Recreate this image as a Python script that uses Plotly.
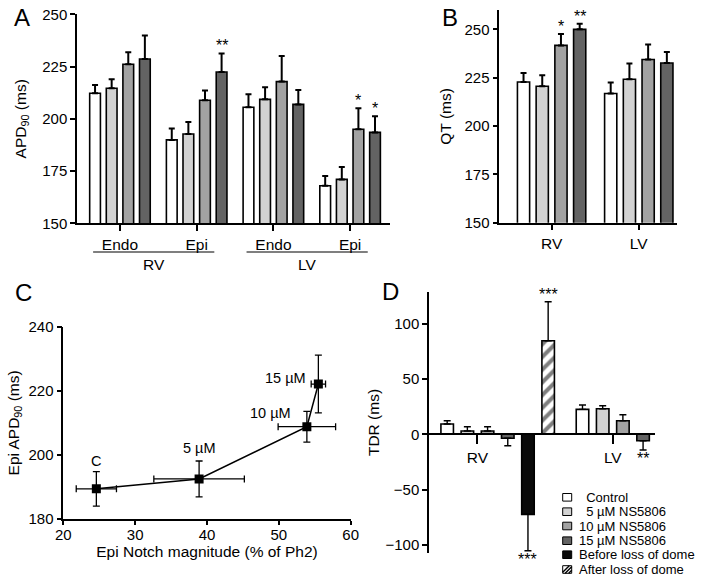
import plotly.graph_objects as go

W, H = 704, 582
FONT = "Arial, Liberation Sans, sans-serif"

# ---------------- data ----------------
series_names = ["Control", "5 µM NS5806", "10 µM NS5806", "15 µM NS5806"]
series_colors = ["#ffffff", "#d2d2d2", "#a2a2a2", "#636363"]

# Panel A: APD90 (ms)
a_groups = ["Endo", "Epi", "Endo", "Epi"]
a_regions = ["RV", "LV"]
a_control = [212.2, 189.9, 205.5, 168.0]
a_5uM = [214.6, 192.7, 209.3, 171.0]
a_10uM = [226.1, 208.9, 217.8, 195.0]
a_15uM = [228.6, 222.4, 206.9, 193.5]
a_control_sem = [4.0, 5.4, 6.2, 4.6]
a_5uM_sem = [4.3, 5.8, 5.8, 5.9]
a_10uM_sem = [5.7, 4.7, 12.2, 10.0]
a_15uM_sem = [11.2, 8.9, 6.9, 7.7]
a_stars = [(1, 3, "**"), (3, 2, "*"), (3, 3, "*")]  # (group, series, text)

# Panel B: QT (ms)
b_groups = ["RV", "LV"]
b_control = [222.8, 216.8]
b_5uM = [220.6, 224.2]
b_10uM = [241.7, 234.4]
b_15uM = [250.0, 232.6]
b_control_sem = [4.6, 5.7]
b_5uM_sem = [5.7, 8.1]
b_10uM_sem = [5.9, 7.7]
b_15uM_sem = [2.9, 5.7]
b_stars = [(0, 2, "*"), (0, 3, "**")]

# Panel C: Epi APD90 vs Epi notch magnitude
c_labels = ["C", "5 µM", "10 µM", "15 µM"]
c_notch = [24.6, 38.9, 53.9, 55.5]
c_notch_sem = [2.8, 6.3, 4.0, 1.0]
c_apd = [189.4, 192.5, 208.8, 222.1]
c_apd_sem = [5.4, 5.6, 4.8, 9.0]

# Panel D: TDR (ms)
d_groups = ["RV", "LV"]
d_names = ["Control", "5 µM NS5806", "10 µM NS5806", "15 µM NS5806",
           "Before loss of dome", "After loss of dome"]
d_legend_text = ["\u00a0\u00a0Control", "\u00a0\u00a05 µM NS5806", "10 µM NS5806",
                 "15 µM NS5806", "Before loss of dome", "After loss of dome"]
d_colors = ["#ffffff", "#d2d2d2", "#a2a2a2", "#636363", "#0a0a0a", "#ffffff"]
d_rv = [9.3, 3.0, 3.0, -3.6, -72.4, 84.7]
d_rv_sem = [3.0, 3.9, 3.9, 6.7, 32.9, 35.3]
d_lv = [22.6, 23.2, 12.3, -5.8]
d_lv_sem = [3.9, 2.7, 5.4, 8.4]
d_stars = [(0, 4, "***"), (0, 5, "***"), (1, 3, "**")]

# ---------------- helpers ----------------
def px_x(p):
    return p / W

def px_y(p):
    return 1 - p / H

fig = go.Figure()
ann = []
shapes = []

def bar_trace(x, y, sem, color, xa, ya, width, pattern=None, ethick=2.0, ewidth=3):
    plus = [s if v >= 0 else 0 for v, s in zip(y, sem)]
    minus = [s if v < 0 else 0 for v, s in zip(y, sem)]
    marker = dict(color=color, line=dict(color="black", width=1.6))
    if pattern:
        marker["pattern"] = pattern
    return go.Bar(x=x, y=y, width=width, marker=marker, xaxis=xa, yaxis=ya,
                  error_y=dict(type="data", symmetric=False, array=plus, arrayminus=minus,
                               color="black", thickness=ethick, width=ewidth),
                  showlegend=False, hoverinfo="skip")

# Panel A
A_SLOT, A_W = 0.2165, 0.14
a_vals = [a_control, a_5uM, a_10uM, a_15uM]
a_sems = [a_control_sem, a_5uM_sem, a_10uM_sem, a_15uM_sem]
for i in range(4):
    xs = [g + (i - 1.5) * A_SLOT for g in range(len(a_groups))]
    fig.add_trace(bar_trace(xs, a_vals[i], a_sems[i], series_colors[i], "x", "y", A_W))
for g, s, t in a_stars:
    ann.append(dict(x=g + (s - 1.5) * A_SLOT, y=a_vals[s][g] + a_sems[s][g], xref="x", yref="y",
                    text=t, showarrow=False, xanchor="center", yanchor="bottom", yshift=-3,
                    font=dict(size=16, color="black")))
# region underlines
for r, region in enumerate(a_regions):
    g0, g1 = 2 * r, 2 * r + 1
    x0, x1 = g0 - 0.35, g1 + 0.23
    shapes.append(dict(type="line", xref="x", yref="paper", x0=x0, x1=x1,
                       y0=px_y(252), y1=px_y(252), line=dict(color="black", width=1.2)))
    ann.append(dict(x=(x0 + x1) / 2, y=px_y(265), xref="x", yref="paper", text=region,
                    showarrow=False, xanchor="center", yanchor="middle",
                    font=dict(size=15.5, color="black")))

# Panel B
B_SLOT, B_W = 0.2147, 0.14
b_vals = [b_control, b_5uM, b_10uM, b_15uM]
b_sems = [b_control_sem, b_5uM_sem, b_10uM_sem, b_15uM_sem]
for i in range(4):
    xs = [g + (i - 1.5) * B_SLOT for g in range(len(b_groups))]
    fig.add_trace(bar_trace(xs, b_vals[i], b_sems[i], series_colors[i], "x2", "y2", B_W))
for g, s, t in b_stars:
    ann.append(dict(x=g + (s - 1.5) * B_SLOT, y=b_vals[s][g] + b_sems[s][g], xref="x2", yref="y2",
                    text=t, showarrow=False, xanchor="center", yanchor="bottom", yshift=-3,
                    font=dict(size=16, color="black")))

# Panel C
fig.add_trace(go.Scatter(x=c_notch, y=c_apd, mode="lines+markers", xaxis="x3", yaxis="y3",
                         line=dict(color="black", width=1.5),
                         marker=dict(symbol="square", size=9, color="black"),
                         error_x=dict(type="data", array=c_notch_sem, color="black", thickness=1.3, width=3.5),
                         error_y=dict(type="data", array=c_apd_sem, color="black", thickness=1.3, width=3.5),
                         showlegend=False, hoverinfo="skip"))
c_offsets = [(0, 28), (0, 31), (-36, 14), (-33, 6)]
for lab, xv, yv, (dx, dy) in zip(c_labels, c_notch, c_apd, c_offsets):
    ann.append(dict(x=xv, y=yv, xref="x3", yref="y3", text=lab, showarrow=False,
                    xanchor="center", yanchor="middle",
                    xshift=dx, yshift=dy, font=dict(size=14.5, color="black")))

# Panel D
D_GROUP_POS = [0, 6.7]
D_W = 0.62
d_data = [d_rv, d_lv]
d_sem = [d_rv_sem, d_lv_sem]
for i, name in enumerate(d_names):
    xs, ys, ss = [], [], []
    for g in range(len(d_groups)):
        if i < len(d_data[g]):
            xs.append(D_GROUP_POS[g] + (i - 1.5))
            ys.append(d_data[g][i])
            ss.append(d_sem[g][i])
    pattern = dict(shape="/", fgcolor="black", bgcolor="white", size=9, solidity=0.45) if i == 5 else None
    fig.add_trace(bar_trace(xs, ys, ss, d_colors[i], "x4", "y4", D_W, pattern=pattern,
                            ethick=1.4, ewidth=3.5))
for g, s, t in d_stars:
    v = d_data[g][s]
    e = d_sem[g][s]
    ypos = v + e if v >= 0 else v - e
    ann.append(dict(x=D_GROUP_POS[g] + (s - 1.5), y=ypos, xref="x4", yref="y4", text=t,
                    showarrow=False, xanchor="center", yanchor="bottom" if v >= 0 else "top",
                    yshift=-3 if v >= 0 else 2, font=dict(size=16, color="black")))

# manual legend for panel D
row_y = [497.3, 511.7, 526.0, 540.7, 554.7, 569.5]
sx0, sx1 = 562.7, 571.7
for i, (txt, yy) in enumerate(zip(d_legend_text, row_y)):
    shapes.append(dict(type="rect", xref="paper", yref="paper", x0=px_x(sx0), x1=px_x(sx1),
                       y0=px_y(yy + 3.8), y1=px_y(yy - 3.8), fillcolor=d_colors[i],
                       line=dict(color="black", width=1)))
    if i == 5:
        for k in range(3):
            a = sx0 + k * 3.5 - 1
            shapes.append(dict(type="line", xref="paper", yref="paper",
                               x0=px_x(max(sx0, a)), y0=px_y(yy + 3.8 - (max(sx0, a) - a)),
                               x1=px_x(min(sx1, a + 7.6)), y1=px_y(yy + 3.8 - (min(sx1, a + 7.6) - a)),
                               line=dict(color="black", width=1.4)))
    ann.append(dict(x=px_x(577), y=px_y(yy), xref="paper", yref="paper", text=txt,
                    showarrow=False, xanchor="left", yanchor="middle",
                    font=dict(size=13, color="black")))

# panel letters
for letter, (lx, ly) in zip("ABCD", [(22, 17), (450, 17.5), (23, 292.5), (390, 291.5)]):
    ann.append(dict(x=px_x(lx), y=px_y(ly), xref="paper", yref="paper", text=letter,
                    showarrow=False, xanchor="center", yanchor="middle",
                    font=dict(size=24, color="black")))

axis_common = dict(showline=True, linecolor="black", linewidth=1.5, ticks="outside",
                   tickcolor="black", tickwidth=1.5, showgrid=False, zeroline=False,
                   automargin=False, tickfont=dict(size=15, color="black"),
                   title_font=dict(size=15.5, color="black"))

fig.update_layout(
    width=W, height=H, margin=dict(l=0, r=0, t=0, b=0),
    plot_bgcolor="white", paper_bgcolor="white",
    font=dict(family=FONT, color="black"),
    barmode="overlay", showlegend=False,
    xaxis=dict(axis_common, domain=[px_x(77), px_x(390)], range=[-0.56, 3.52],
               tickvals=list(range(len(a_groups))), ticktext=a_groups, ticklen=6,
               tickfont=dict(size=15.5), anchor="y"),
    yaxis=dict(axis_common, domain=[px_y(223.3), px_y(14.3)], range=[150, 250], dtick=25,
               ticklen=5, anchor="x", title=dict(text="APD<sub>90</sub> (ms)", standoff=12)),
    xaxis2=dict(axis_common, domain=[px_x(499.3), px_x(676.7)], range=[-0.60, 1.435],
                tickvals=list(range(len(b_groups))), ticktext=b_groups, ticklen=6,
                tickfont=dict(size=15.5), anchor="y2"),
    yaxis2=dict(axis_common, domain=[px_y(222.7), px_y(10)], range=[150, 260],
                tickvals=[150, 175, 200, 225, 250], ticklen=5, anchor="x2",
                title=dict(text="QT (ms)", standoff=9)),
    xaxis3=dict(axis_common, domain=[px_x(63.3), px_x(350.7)], range=[20, 60], dtick=10,
                ticklen=4, ticklabelstandoff=-3, anchor="y3",
                title=dict(text="Epi Notch magnitude (% of Ph2)", standoff=0)),
    yaxis3=dict(axis_common, domain=[px_y(519), px_y(326.7)], range=[180, 240], dtick=20,
                ticklen=5, anchor="x3", title=dict(text="Epi APD<sub>90</sub> (ms)", standoff=5)),
    xaxis4=dict(axis_common, domain=[px_x(429), px_x(655)], range=[-2.4, 8.79],
                tickvals=D_GROUP_POS, ticktext=d_groups, ticklen=9,
                tickfont=dict(size=15.5), anchor="free", position=px_y(434.3)),
    yaxis4=dict(axis_common, domain=[px_y(553), px_y(292)], range=[-107.4, 128.8], dtick=50,
                ticklen=5, anchor="x4", title=dict(text="TDR (ms)", standoff=2)),
    annotations=ann, shapes=shapes,
)

fig.write_html("out.html", config={"displayModeBar": False},
               post_script="document.body.style.margin='0';document.body.style.overflow='hidden';")
